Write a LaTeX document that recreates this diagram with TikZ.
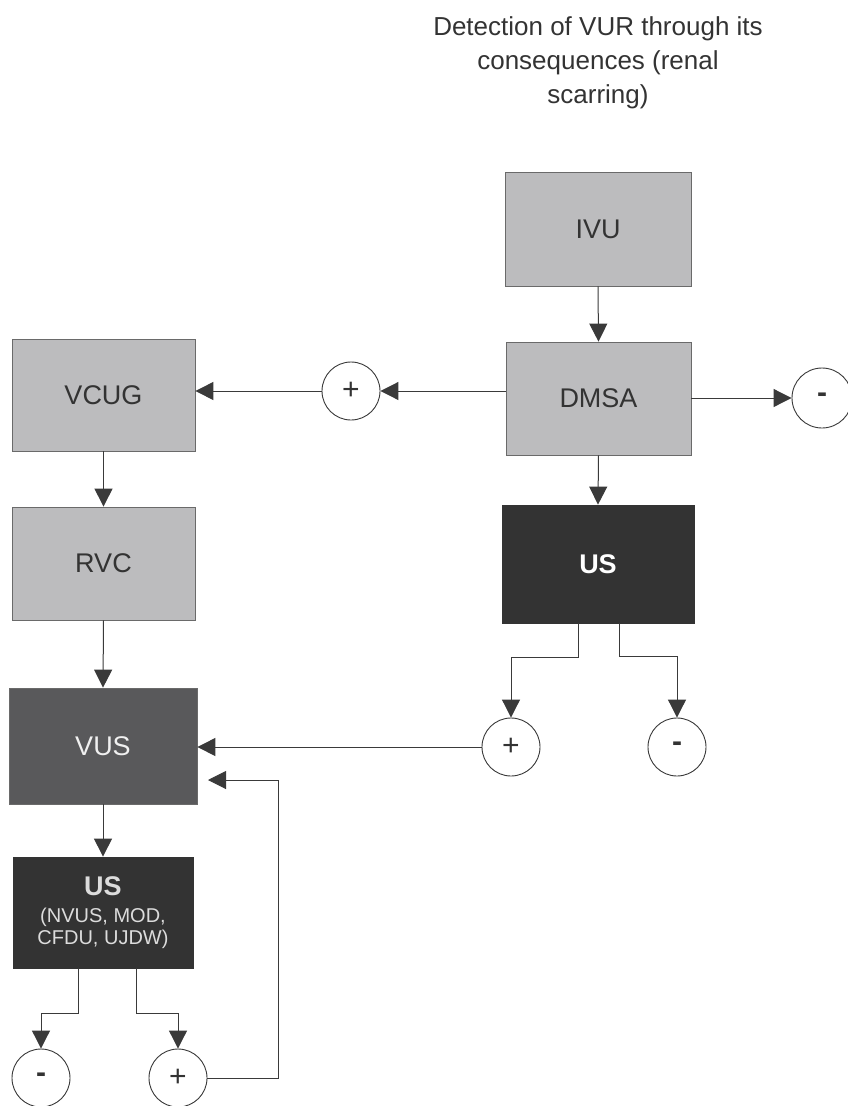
\documentclass[tikz,border=0pt]{standalone}
\usepackage{fontspec}
\setmainfont{Liberation Sans}
\usetikzlibrary{arrows.meta}
\definecolor{lightbox}{HTML}{BCBCBE}
\definecolor{boxline}{HTML}{6A6A6A}
\definecolor{darkbox}{HTML}{333333}
\definecolor{midbox}{HTML}{59595B}
\definecolor{ink}{HTML}{333333}
\definecolor{wire}{HTML}{3A3A3A}
\definecolor{paletext}{HTML}{DCDCDC}
\tikzset{
  box/.style={rectangle, draw=boxline, line width=0.8pt, fill=lightbox, text=ink,
    font=\fontsize{27}{30}\selectfont, inner sep=0pt},
  darkus/.style={box, fill=darkbox, draw=darkbox, text=white, font=\bfseries\fontsize{27}{30}\selectfont},
  midus/.style={box, fill=midbox, draw=boxline, text=white!94!black},
  sign/.style={circle, draw=wire, line width=0.9pt, fill=white, minimum size=58pt,
    inner sep=0pt, text=ink, font=\fontsize{30}{30}\selectfont},
  minussign/.style={sign, font=\bfseries\fontsize{30}{30}\selectfont},
  arr/.style={draw=wire, line width=1pt, -{Triangle[length=18pt,width=18pt]}},
  title/.style={align=center, text=ink, font=\fontsize{26}{34}\selectfont, inner sep=0pt}
}
\begin{document}
\begin{tikzpicture}[x=1pt, y=-1pt]
\useasboundingbox (0,0) rectangle (847,1106);

% title
\node[title] (title) at (598,63) {Detection of VUR through its\\consequences (renal\\scarring)};

% right column
\node[box, minimum width=186pt, minimum height=114pt] (IVU) at (598,229) {IVU};
\node[box, minimum width=185pt, minimum height=113pt] (DMSA) at (598.5,398.5) {DMSA};
\node[darkus, minimum width=192pt, minimum height=118pt] (USR) at (598,564) {US};

% left column
\node[box, minimum width=183pt, minimum height=112pt] (VCUG) at (103.5,395) {VCUG};
\node[box, minimum width=183pt, minimum height=113pt] (RVC) at (103.5,563.5) {RVC};
\node[midus, minimum width=188pt, minimum height=116pt] (VUS) at (103,746) {VUS};
\node[box, fill=darkbox, draw=darkbox, text=paletext, align=center,
      minimum width=180pt, minimum height=111pt, font=\fontsize{20}{22}\selectfont]
      (USL) at (103,912.5) {{\bfseries\fontsize{27}{28}\selectfont US}\\[5pt](NVUS, MOD,\\CFDU, UJDW)};

% sign circles
\node[sign] (p1) at (351,391) {+};
\node[minussign, minimum size=60pt] (m1) at (822,398) {-};
\node[sign] (p2) at (511,747) {+};
\node[minussign] (m2) at (677,747) {-};
\node[minussign] (m3) at (41,1078) {-};
\node[sign] (p3) at (178,1078) {+};

% helper coordinates
\coordinate (k1) at (578,657);
\coordinate (k2) at (619,656);
\coordinate (k3) at (78,1013);
\coordinate (k4) at (136,1013);
\coordinate (fb) at (278,780);
\coordinate (fbend) at (208,780);

% connectors right column
\draw[arr] (IVU.south) -- (DMSA.north);
\draw[arr] (DMSA.west |- p1) -- (p1.east);
\draw[arr] (p1.west) -- (VCUG.east |- p1);
\draw[arr] (DMSA.east |- m1) -- (m1.west);
\draw[arr] (DMSA.south) -- (USR.north);
\draw[arr] (USR.south -| k1) -- (k1) -| (p2.north);
\draw[arr] (USR.south -| k2) -- (k2) -| (m2.north);
\draw[arr] (p2.west) -- (VUS.east |- p2);

% connectors left column
\draw[arr] (VCUG.south) -- (RVC.north);
\draw[arr] (RVC.south) -- (VUS.north);
\draw[arr] (VUS.south) -- (USL.north);
\draw[arr] (USL.south -| k3) -- (k3) -| (m3.north);
\draw[arr] (USL.south -| k4) -- (k4) -| (p3.north);
\draw[arr] (p3.east) -| (fb) -- (fbend);
\end{tikzpicture}
\end{document}
